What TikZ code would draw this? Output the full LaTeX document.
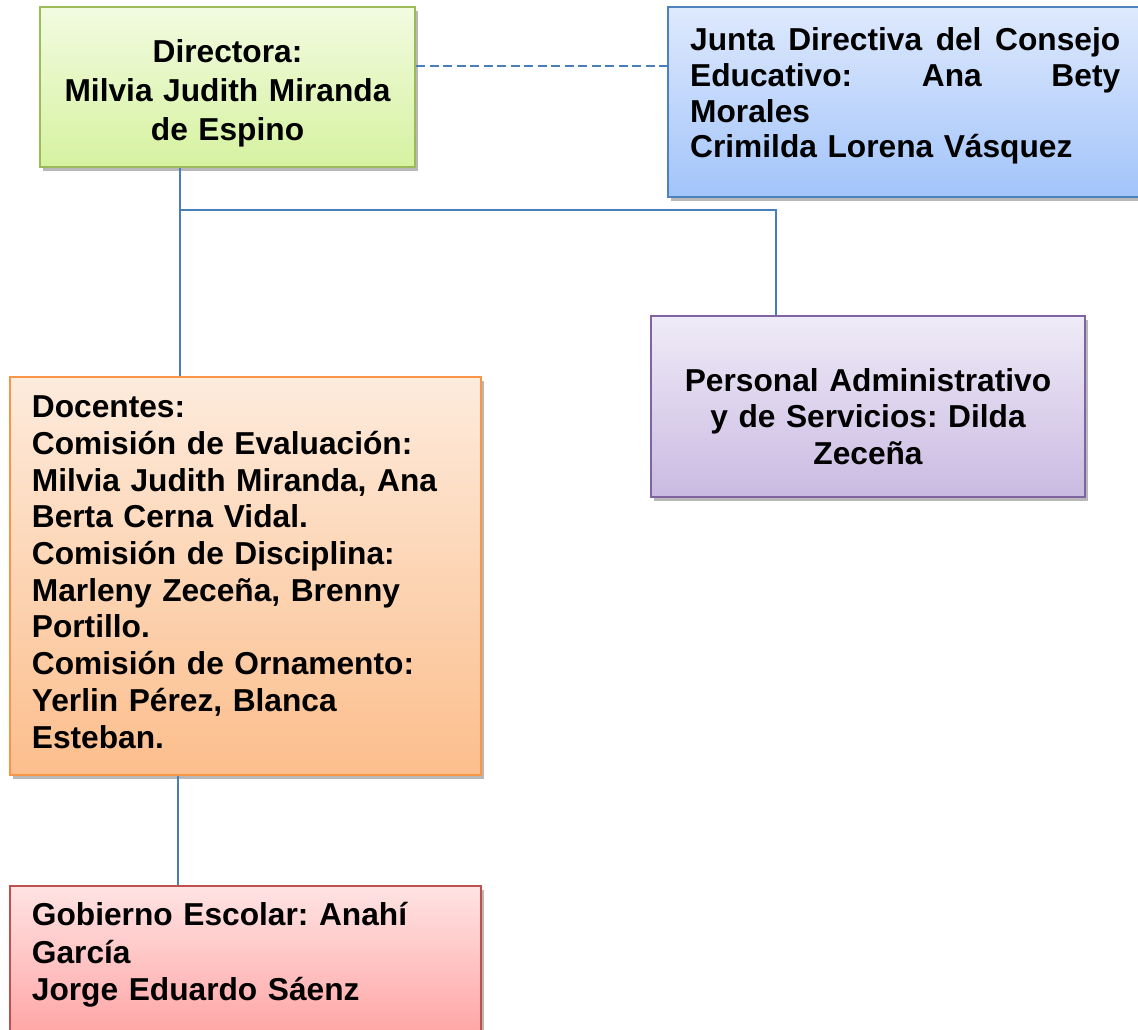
\documentclass[tikz,border=0pt]{standalone}
\usepackage{fontspec}
\setmainfont{Liberation Sans}
\usetikzlibrary{shadows,calc}
\frenchspacing
\definecolor{gTop}{RGB}{242,251,224}
\definecolor{gBot}{RGB}{214,242,160}
\definecolor{gLine}{RGB}{155,187,89}
\definecolor{bTop}{RGB}{222,233,253}
\definecolor{bBot}{RGB}{162,196,250}
\definecolor{bLine}{RGB}{79,129,189}
\definecolor{pTop}{RGB}{239,235,247}
\definecolor{pBot}{RGB}{202,186,226}
\definecolor{pLine}{RGB}{128,100,162}
\definecolor{oTop}{RGB}{253,235,220}
\definecolor{oBot}{RGB}{252,190,140}
\definecolor{oLine}{RGB}{247,150,70}
\definecolor{rTop}{RGB}{255,227,227}
\definecolor{rBot}{RGB}{255,163,163}
\definecolor{rLine}{RGB}{192,80,77}
\definecolor{conn}{RGB}{74,126,187}
\tikzset{
  box/.style={rectangle, inner sep=0pt, line width=2pt,
    drop shadow={shadow xshift=3pt, shadow yshift=-3.5pt, fill=black, opacity=0.28}},
  txt/.style={inner sep=0pt, font=\fontsize{31.7}{36.7}\selectfont\bfseries\frenchspacing},
  link/.style={draw=conn, line width=2pt},
  dashlink/.style={draw=conn, line width=2pt, dash pattern=on 9pt off 4.5pt}
}
\begin{document}
\begin{tikzpicture}[x=1pt,y=-1pt]
\useasboundingbox (0,0) rectangle (1138,1029);
% boxes
\node[box, draw=gLine, top color=gTop, bottom color=gBot, minimum width=375pt, minimum height=160pt] (dir) at (227.5,87) {};
\node[box, draw=bLine, top color=bTop, bottom color=bBot, minimum width=477pt, minimum height=190pt] (jun) at (906.5,102) {};
\node[box, draw=pLine, top color=pTop, bottom color=pBot, minimum width=434pt, minimum height=181pt] (per) at (868,406.5) {};
\node[box, draw=oLine, top color=oTop, bottom color=oBot, minimum width=471pt, minimum height=398pt] (doc) at (245.5,576) {};
\node[box, draw=rLine, top color=rTop, bottom color=rBot, minimum width=471pt, minimum height=154pt] (gob) at (245.5,963) {};
% texts
\node[txt, anchor=base, text width=375pt, align=center, font=\fontsize{31.7}{39}\selectfont\bfseries\frenchspacing] (dirT) at (227.5,62.7)
  {Directora:\\Milvia Judith Miranda\\de Espino};
\node[txt, anchor=base west, text width=430pt, align=left, font=\fontsize{31.7}{35.7}\selectfont\bfseries\frenchspacing] (junT) at (690,50.7)
  {Junta\hfill Directiva\hfill del\hfill Consejo\\Educativo:\hfill Ana\hfill Bety\\Morales\\Crimilda Lorena Vásquez};
\node[txt, anchor=base, text width=434pt, align=center] (perT) at (868,391)
  {Personal Administrativo\\y de Servicios: Dilda\\Zeceña};
\node[txt, anchor=base west, text width=440pt, align=left] (docT) at (31.7,417.7)
  {Docentes:\\Comisión de Evaluación:\\Milvia Judith Miranda, Ana\\Berta Cerna Vidal.\\Comisión de Disciplina:\\Marleny Zeceña, Brenny\\Portillo.\\Comisión de Ornamento:\\Yerlin Pérez, Blanca\\Esteban.};
\node[txt, anchor=base west, text width=440pt, align=left, font=\fontsize{31.7}{37.5}\selectfont\bfseries\frenchspacing] (gobT) at (31.7,925.7)
  {Gobierno Escolar: Anahí\\García\\Jorge Eduardo Sáenz};
% connectors
\draw[dashlink] ([yshift=21pt]dir.east) -- ([yshift=36pt]jun.west);
\draw[link] ([xshift=-47.5pt]dir.south) -- ([xshift=-47.5pt]dir.south |- doc.north);
\coordinate (br) at ($([xshift=-47.5pt]dir.south)+(0,42)$);
\draw[link] (br) -| ([xshift=-92pt]per.north);
\draw[link] ([xshift=-67.5pt]doc.south) -- ([xshift=-67.5pt]doc.south |- gob.north);
\end{tikzpicture}
\end{document}
